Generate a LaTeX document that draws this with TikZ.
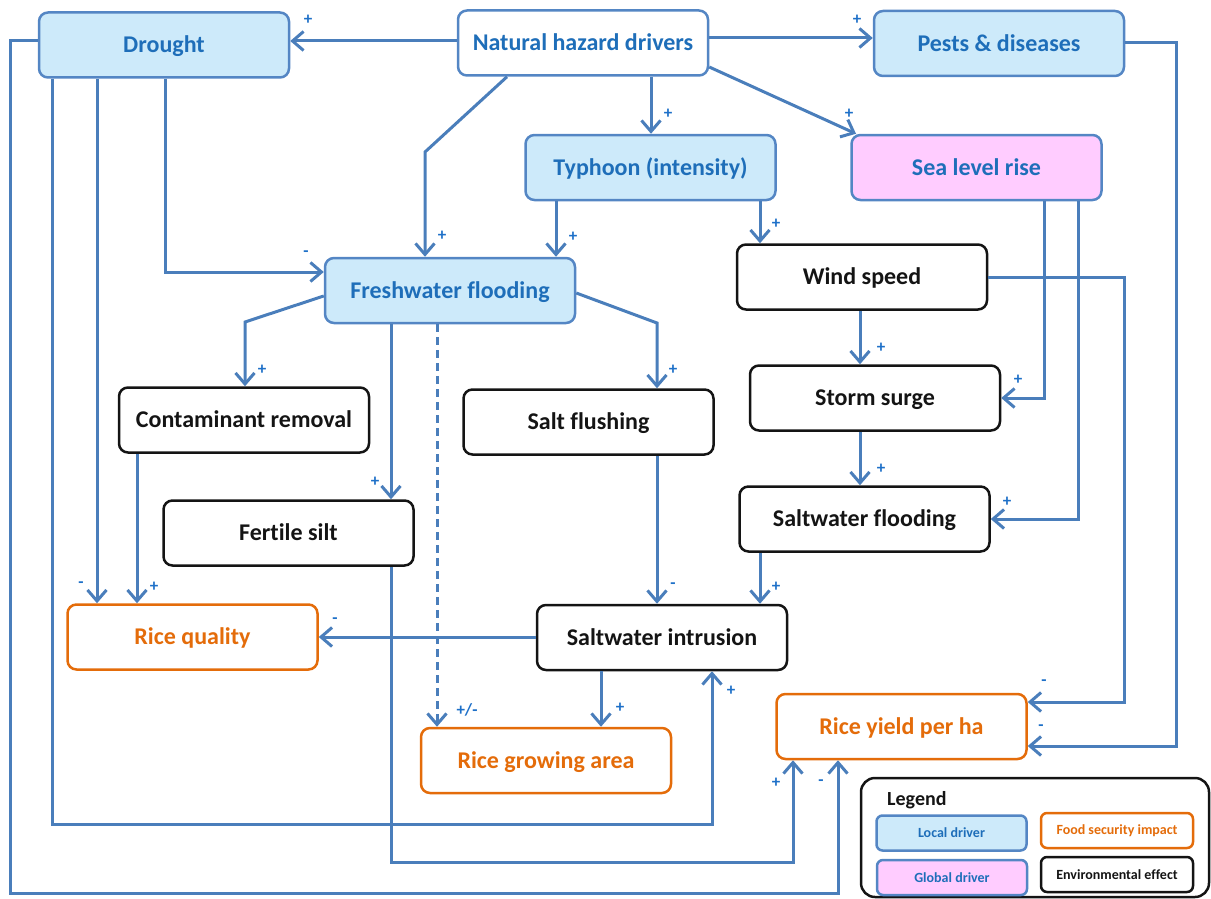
\documentclass[tikz,border=0pt]{standalone}
\usepackage{fontspec}
\setmainfont{Carlito}[Ligatures={NoCommon}]
\usetikzlibrary{arrows.meta}
\definecolor{lineblue}{RGB}{74,126,187}
\definecolor{boxblue}{RGB}{84,134,196}
\definecolor{lightfill}{RGB}{205,234,250}
\definecolor{pinkfill}{RGB}{255,204,255}
\definecolor{txtblue}{RGB}{30,110,185}
\definecolor{sgnblue}{RGB}{30,112,200}
\definecolor{orng}{RGB}{228,108,10}
\definecolor{nearblack}{RGB}{20,20,20}
\tikzset{
  boxbase/.style={rectangle, rounded corners=9pt, line width=2.5pt, minimum width=250pt, minimum height=65pt, inner sep=0pt, align=center, text height=19.5pt, text depth=4pt, font=\fontsize{24}{28}\selectfont\bfseries},
  localbox/.style={boxbase, draw=boxblue, fill=lightfill, text=txtblue},
  globalbox/.style={boxbase, draw=boxblue, fill=pinkfill, text=txtblue},
  drvbox/.style={boxbase, draw=boxblue, fill=white, text=txtblue},
  envbox/.style={boxbase, draw=nearblack, fill=white, text=nearblack},
  impbox/.style={boxbase, draw=orng, fill=white, text=orng},
  legbase/.style={rectangle, rounded corners=6pt, line width=2.5pt, minimum width=150pt, minimum height=35pt, inner sep=0pt, font=\fontsize{14}{16}\selectfont\bfseries},
  arr/.style={draw=lineblue, line width=3pt, line join=miter, -{Straight Barb[length=11pt,width=19pt]}},
  sgn/.style={text=sgnblue, font=\fontsize{17}{17}\selectfont\bfseries, inner sep=0pt},
}
\begin{document}
\begin{tikzpicture}[x=1pt,y=-1pt]
\useasboundingbox (0,0) rectangle (1211,899);
% nodes
\node[localbox] (drought) at (164,45) {Drought};
\node[drvbox] (nhd) at (583,43) {Natural hazard drivers};
\node[localbox] (pests) at (999,43.5) {Pests \& diseases};
\node[localbox] (typhoon) at (650.5,167.5) {Typhoon (intensity)};
\node[globalbox] (sea) at (976.5,167.5) {Sea level rise};
\node[localbox] (fresh) at (450,290.5) {Freshwater flooding};
\node[envbox] (wind) at (862,277) {Wind speed};
\node[envbox] (contam) at (244,420) {Contaminant removal};
\node[envbox] (sflush) at (588.5,422) {Salt flushing};
\node[envbox] (storm) at (875,398) {Storm surge};
\node[envbox] (fertile) at (288.5,533) {Fertile silt};
\node[envbox] (swflood) at (864.5,519) {Saltwater flooding};
\node[impbox] (rq) at (192.5,637) {Rice quality};
\node[envbox] (swi) at (662,637.5) {Saltwater intrusion};
\node[impbox] (rga) at (546,760.5) {Rice growing area};
\node[impbox] (ry) at (901.5,726.5) {Rice yield per ha};
% legend
\node[draw=nearblack, line width=2.5pt, rounded corners=14pt, minimum width=348pt, minimum height=119pt, inner sep=0pt] (legend) at (1035,837.5) {};
\node[anchor=west, inner sep=0pt, text=nearblack, font=\fontsize{20}{22}\selectfont\bfseries] (legtitle) at (887,800) {Legend};
\node[legbase, draw=boxblue, fill=lightfill, text=txtblue] (leglocal) at (951.5,833) {Local driver};
\node[legbase, draw=orng, fill=white, text=orng, minimum width=152pt] (legfood) at (1117,830.5) {Food security impact};
\node[legbase, draw=boxblue, fill=pinkfill, text=txtblue] (legglobal) at (952,877.5) {Global driver};
\node[legbase, draw=nearblack, fill=white, text=nearblack, minimum width=152pt] (legenv) at (1117,874.5) {Environmental effect};
% connectors
\draw[arr] (nhd.west |- 0,41) -- (drought.east |- 0,41);
\draw[arr] (nhd.east |- 0,38) -- (pests.west |- 0,38);
\draw[arr] (nhd.south -| 651,0) -- (typhoon.north -| 651,0);
\draw[arr] (nhd.east |- 0,67) -- (sea.north -| 856,0);
\draw[arr] (nhd.south -| 507,0) -- (425,152) -- (fresh.north -| 425,0);
\draw[arr] (typhoon.south -| 556,0) -- (fresh.north -| 556,0);
\draw[arr] (typhoon.south -| 760,0) -- (wind.north -| 760,0);
\draw[arr] (drought.south -| 165,0) -- (165,272) -- (fresh.west |- 0,272);
\draw[arr] (drought.south -| 97,0) -- (rq.north -| 97,0);
\draw[arr] (drought.south -| 52,0) -- (52,824) -- (712,824) -- (swi.south -| 712,0);
\draw[arr] (drought.west |- 0,41) -- (10,41) -- (10,893) -- (838,893) -- (ry.south -| 838,0);
\draw[arr] (contam.south -| 137,0) -- (rq.north -| 137,0);
\draw[arr] (fresh.west |- 0,296) -- (245,322) -- (contam.north -| 245,0);
\draw[arr] (fresh.south -| 391,0) -- (fertile.north -| 391,0);
\draw[arr, dash pattern=on 8pt off 5pt] (fresh.south -| 437,0) -- (rga.north -| 437,0);
\draw[arr] (fresh.east |- 0,293) -- (657,323) -- (sflush.north -| 657,0);
\draw[arr] (sflush.south -| 657,0) -- (swi.north -| 657,0);
\draw[arr] (swflood.south -| 760,0) -- (swi.north -| 760,0);
\draw[arr] (swi.west |- 0,637) -- (rq.east |- 0,637);
\draw[arr] (swi.south -| 601,0) -- (rga.north -| 601,0);
\draw[arr] (wind.south -| 860,0) -- (storm.north -| 860,0);
\draw[arr] (storm.south -| 860,0) -- (swflood.north -| 860,0);
\draw[arr] (sea.south -| 1044,0) -- (1044,398) -- (storm.east |- 0,398);
\draw[arr] (sea.south -| 1078,0) -- (1078,519) -- (swflood.east |- 0,519);
\draw[arr] (wind.east |- 0,277) -- (1124,277) -- (1124,702) -- (ry.east |- 0,702);
\draw[arr] (pests.east |- 0,43) -- (1176,43) -- (1176,746) -- (ry.east |- 0,746);
\draw[arr] (fertile.south -| 391,0) -- (391,862) -- (793,862) -- (ry.south -| 793,0);
% signs
\node[sgn] (s1) at (308,20) {+};
\node[sgn] (s2) at (857,20) {+};
\node[sgn] (s3) at (668,114) {+};
\node[sgn] (s4) at (849,114) {+};
\node[sgn] (s5) at (442,236) {+};
\node[sgn] (s6) at (573,237) {+};
\node[sgn] (s7) at (776,224) {+};
\node[sgn] (s8) at (306,254) {-};
\node[sgn] (s9) at (81,585) {-};
\node[sgn] (s10) at (731,691) {+};
\node[sgn] (s11) at (821,783) {-};
\node[sgn] (s12) at (154,587) {+};
\node[sgn] (s13) at (262,370) {+};
\node[sgn] (s14) at (375,482) {+};
\node[sgn] (s15) at (467,710) {+/-};
\node[sgn] (s16) at (673,370) {+};
\node[sgn] (s17) at (673,586) {-};
\node[sgn] (s18) at (776,587) {+};
\node[sgn] (s19) at (335,621) {-};
\node[sgn] (s20) at (620,708) {+};
\node[sgn] (s21) at (881,348) {+};
\node[sgn] (s22) at (881,469) {+};
\node[sgn] (s23) at (1018,380) {+};
\node[sgn] (s24) at (1007,502) {+};
\node[sgn] (s25) at (1044,683) {-};
\node[sgn] (s26) at (1041,728) {-};
\node[sgn] (s27) at (776,783) {+};
\end{tikzpicture}
\end{document}
